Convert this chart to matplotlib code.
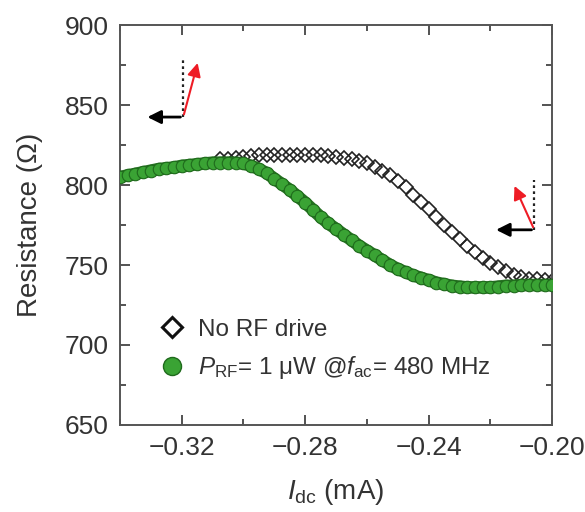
import numpy as np
import matplotlib
matplotlib.use('Agg')
import matplotlib.pyplot as plt
from matplotlib.ticker import MultipleLocator

plt.rcParams['font.family'] = ['Liberation Sans', 'DejaVu Sans']
plt.rcParams['mathtext.fontset'] = 'custom'
plt.rcParams['mathtext.rm'] = 'Liberation Sans'
plt.rcParams['mathtext.it'] = 'Liberation Sans:italic'

# 数据：绿色 (有RF驱动)
i_rf = [-0.3400, -0.3375, -0.3350, -0.3325, -0.3300, -0.3275, -0.3250, -0.3225, -0.3200, -0.3175,
        -0.3150, -0.3125, -0.3100, -0.3075, -0.3050, -0.3025, -0.3000, -0.2975, -0.2950, -0.2925,
        -0.2900, -0.2875, -0.2850, -0.2825, -0.2800, -0.2775, -0.2750, -0.2725, -0.2700, -0.2675,
        -0.2650, -0.2625, -0.2600, -0.2575, -0.2550, -0.2525, -0.2500, -0.2475, -0.2450, -0.2425,
        -0.2400, -0.2375, -0.2350, -0.2325, -0.2300, -0.2275, -0.2250, -0.2225, -0.2200, -0.2175,
        -0.2150, -0.2125, -0.2100, -0.2075, -0.2050, -0.2025, -0.2000]
r_rf = [805, 806, 807, 808, 809, 810, 810.5, 811, 812, 812.5,
        813, 813.5, 814, 814, 814, 814, 813.5, 812, 810, 807.5,
        804, 800.5, 797, 793, 789, 784.5, 780, 776, 772.5, 769,
        765.5, 762, 759, 756, 753, 750, 747.5, 745.5, 743.5, 742,
        740.5, 739, 738, 737, 736.5, 736, 736, 736, 736, 736.5,
        737, 737, 737.5, 737.5, 737.5, 737.5, 737.5]

# 数据：黑色 (无RF驱动)
i_norf = [-0.3075, -0.3050, -0.3025, -0.3000, -0.2975, -0.2950, -0.2925, -0.2900, -0.2875, -0.2850,
          -0.2825, -0.2800, -0.2775, -0.2750, -0.2725, -0.2700, -0.2675, -0.2650, -0.2625, -0.2600,
          -0.2575, -0.2550, -0.2525, -0.2500, -0.2475, -0.2450, -0.2425, -0.2400, -0.2375, -0.2350,
          -0.2325, -0.2300, -0.2275, -0.2250, -0.2225, -0.2200, -0.2175, -0.2150, -0.2125, -0.2100,
          -0.2075, -0.2050, -0.2025, -0.2000]
r_norf = [816, 816.5, 817, 817.5, 818, 818.5, 818.5, 819, 819, 819,
          819, 819, 819, 818.5, 818, 817.5, 817, 816, 815, 813.5,
          811.5, 809, 806, 802.5, 798.5, 794, 789.5, 785, 780, 775,
          770.5, 766, 762, 758, 754.5, 751.5, 748.5, 746, 744, 742.5,
          741.5, 741, 740.5, 740]

# 箭头 (原点, 黑色箭头终点, 红色箭头终点, 虚线终点)
arrow_left = [(-0.3195, 842.5), (-0.3320, 842.5), (-0.3146, 878), (-0.3195, 878)]
arrow_right = [(-0.2058, 772), (-0.2191, 772), (-0.2126, 801), (-0.2058, 803)]

txt = '#333333'
fig = plt.figure(figsize=(5.85, 5.12), dpi=100)
ax = fig.add_axes([0.205, 0.170, 0.739, 0.781])

# 无RF
ax.plot(i_norf, r_norf, linestyle='none', marker='D', markersize=7.5, markerfacecolor='none',
        markeredgecolor='#222222', markeredgewidth=1.2, zorder=2)
# 有RF
ax.plot(i_rf, r_rf, color='#267322', lw=9, solid_capstyle='round', zorder=3)
ax.plot(i_rf, r_rf, linestyle='none', marker='o', markersize=9, markerfacecolor='#3aa334',
        markeredgecolor='#1f6a1c', markeredgewidth=0.8, zorder=4)

for arr in (arrow_left, arrow_right):
    o, kb, kr, kd = arr
    ax.plot([o[0], kd[0]], [o[1], kd[1]], linestyle=(0, (1.2, 1.5)), color='#222222', lw=1.6, zorder=5)
    ax.annotate('', xy=kb, xytext=o,
                arrowprops=dict(arrowstyle='-|>,head_length=0.8,head_width=0.4', color='black', lw=2), zorder=6)
    ax.annotate('', xy=kr, xytext=o,
                arrowprops=dict(arrowstyle='-|>,head_length=0.8,head_width=0.4', color='#ee1c25', lw=1.5), zorder=6)

ax.set_xlim(-0.34, -0.20)
ax.set_ylim(650, 900)
ax.xaxis.set_minor_locator(MultipleLocator(0.02))
ax.yaxis.set_major_locator(MultipleLocator(50))
ax.yaxis.set_minor_locator(MultipleLocator(25))
ax.set_xticks([-0.32, -0.28, -0.24, -0.20])
ax.set_xticklabels(['\u22120.32', '\u22120.28', '\u22120.24', '\u22120.20'])
ax.tick_params(which='both', direction='in', top=True, right=True, colors='#444444',
               labelcolor=txt, labelsize=19, width=1.3)
ax.tick_params(which='major', length=7, pad=8)
ax.tick_params(which='minor', length=4)
for s in ax.spines.values():
    s.set_color('#555555')
    s.set_linewidth(1.4)

ax.set_xlabel(r'$I_{\rm dc}$ (mA)', fontsize=20, color=txt, labelpad=12)
ax.set_ylabel('Resistance (\u03a9)', fontsize=20, color=txt, labelpad=16)

h1, = ax.plot([], [], linestyle='none', marker='D', markersize=10, markerfacecolor='none',
              markeredgecolor='#111111', markeredgewidth=2.2)
h2, = ax.plot([], [], linestyle='none', marker='o', markersize=13, markerfacecolor='#3aa334',
              markeredgecolor='#1f6a1c', markeredgewidth=1)
leg = ax.legend([h1, h2], ['No RF drive', '$P_{\\rm RF}$= 1 \u03bcW @$f_{\\rm ac}$= 480 MHz'],
                loc='lower left', bbox_to_anchor=(0.07, 0.085), frameon=False, fontsize=17.5,
                handletextpad=0.55, labelspacing=0.55, handlelength=1.0, borderaxespad=0)
for t in leg.get_texts():
    t.set_color(txt)

plt.savefig('out.png', dpi=100)
